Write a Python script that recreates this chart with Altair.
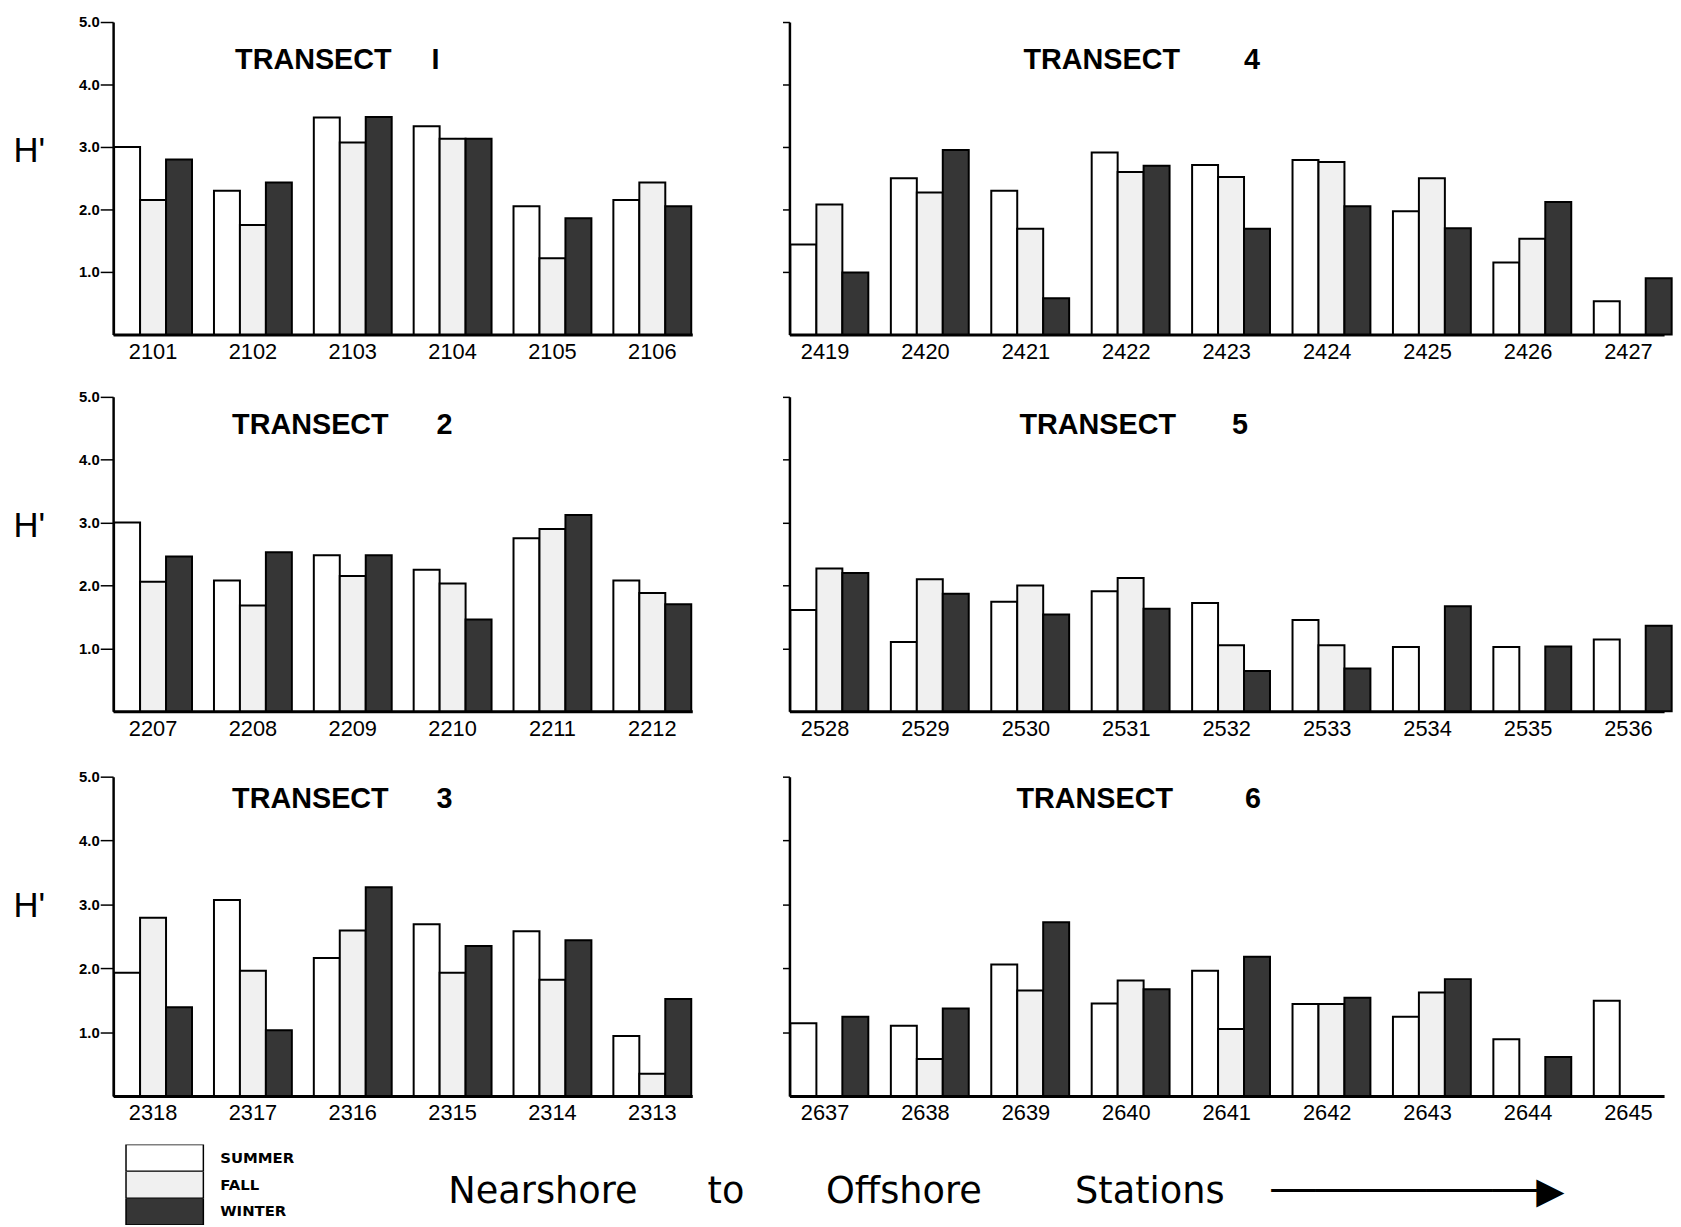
import altair as alt
import pandas as pd

seasons = ["SUMMER", "FALL", "WINTER"]
season_colors = ["#ffffff", "#f0f0f0", "#363636"]

t1_stations = ["2101", "2102", "2103", "2104", "2105", "2106"]
t1_summer = [3.0, 2.3, 3.47, 3.33, 2.05, 2.15]
t1_fall = [2.15, 1.75, 3.07, 3.13, 1.22, 2.43]
t1_winter = [2.8, 2.43, 3.48, 3.13, 1.86, 2.05]

t2_stations = ["2207", "2208", "2209", "2210", "2211", "2212"]
t2_summer = [3.0, 2.08, 2.48, 2.25, 2.75, 2.08]
t2_fall = [2.06, 1.68, 2.15, 2.03, 2.9, 1.88]
t2_winter = [2.46, 2.53, 2.48, 1.46, 3.12, 1.70]

t3_stations = ["2318", "2317", "2316", "2315", "2314", "2313"]
t3_summer = [1.93, 3.07, 2.16, 2.69, 2.58, 0.94]
t3_fall = [2.79, 1.96, 2.59, 1.93, 1.82, 0.35]
t3_winter = [1.39, 1.03, 3.27, 2.35, 2.44, 1.52]

t4_stations = ["2419", "2420", "2421", "2422", "2423", "2424", "2425", "2426", "2427"]
t4_summer = [1.44, 2.5, 2.3, 2.91, 2.71, 2.79, 1.97, 1.15, 0.53]
t4_fall = [2.08, 2.27, 1.69, 2.6, 2.52, 2.76, 2.5, 1.53, None]
t4_winter = [0.99, 2.95, 0.58, 2.7, 1.69, 2.05, 1.7, 2.12, 0.9]

t5_stations = ["2528", "2529", "2530", "2531", "2532", "2533", "2534", "2535", "2536"]
t5_summer = [1.61, 1.1, 1.74, 1.91, 1.72, 1.45, 1.02, 1.02, 1.14]
t5_fall = [2.27, 2.1, 2.0, 2.12, 1.05, 1.05, None, None, None]
t5_winter = [2.2, 1.87, 1.54, 1.63, 0.64, 0.68, 1.67, 1.03, 1.36]

t6_stations = ["2637", "2638", "2639", "2640", "2641", "2642", "2643", "2644", "2645"]
t6_summer = [1.14, 1.1, 2.06, 1.45, 1.96, 1.44, 1.24, 0.89, 1.49]
t6_fall = [None, 0.58, 1.65, 1.81, 1.05, 1.44, 1.62, None, None]
t6_winter = [1.24, 1.37, 2.72, 1.67, 2.18, 1.54, 1.83, 0.61, None]

y_ticks = [1, 2, 3, 4, 5]
FONT = "Liberation Sans"
NB = "\u00a0"


def panel(num, gap, stations, summer, fall, winter, left, width, height, pad_inner,
          title_dx, title_off):
    rows = []
    for i, st in enumerate(stations):
        for season, vals in zip(seasons, [summer, fall, winter]):
            v = vals[i]
            if v is not None:
                rows.append({"station": st, "season": season, "H": v})
    df = pd.DataFrame(rows)
    if left:
        yaxis = alt.Axis(values=y_ticks, format=".1f", tickSize=13, tickWidth=1.5,
                         tickColor="black", domainColor="black", domainWidth=2.5,
                         labelFontSize=15, labelFontWeight="bold", labelFont=FONT,
                         labelColor="black", labelPadding=1, grid=False,
                         title="H'", titleAngle=0, titleX=-85, titleY=130,
                         titleFontSize=35, titleFontWeight="normal", titleFont=FONT,
                         titleAlign="center", titleBaseline="middle", titleColor="black")
    else:
        yaxis = alt.Axis(values=y_ticks, labels=False, tickSize=7, tickWidth=1.5,
                         tickColor="black", domainColor="black", domainWidth=2.5,
                         grid=False, title=None)
    chart = alt.Chart(df).mark_bar(stroke="black", strokeWidth=2).encode(
        x=alt.X("station:N", sort=stations,
                scale=alt.Scale(paddingInner=pad_inner, paddingOuter=0.01),
                axis=alt.Axis(title=None, labelAngle=0, ticks=False, domainWidth=3,
                              domainColor="black", labelFontSize=22, labelFont=FONT,
                              labelColor="black", labelPadding=7)),
        xOffset=alt.XOffset("season:N", sort=seasons,
                            scale=alt.Scale(domain=seasons, paddingInner=0, paddingOuter=0)),
        y=alt.Y("H:Q", scale=alt.Scale(domain=[0, 5], nice=False), axis=yaxis),
        color=alt.Color("season:N", scale=alt.Scale(domain=seasons, range=season_colors),
                        legend=alt.Legend(title=None)),
    ).properties(
        width=width, height=height,
        title=alt.TitleParams(text="TRANSECT" + NB * gap + num, anchor="start", frame="group",
                              dx=title_dx, offset=title_off, baseline="middle",
                              fontSize=29, font=FONT, fontWeight="bold", color="black"),
    )
    return chart


LW, RW = 584, 882
p1 = panel("I", 5, t1_stations, t1_summer, t1_fall, t1_winter, True, LW, 315, 0.22, 123, -74)
p4 = panel("4", 8, t4_stations, t4_summer, t4_fall, t4_winter, False, RW, 315, 0.31, 236, -68)
p2 = panel("2", 6, t2_stations, t2_summer, t2_fall, t2_winter, True, LW, 317, 0.22, 120, -64)
p5 = panel("5", 7, t5_stations, t5_summer, t5_fall, t5_winter, False, RW, 317, 0.31, 232, -58)
p3 = panel("3", 6, t3_stations, t3_summer, t3_fall, t3_winter, True, LW, 322, 0.22, 120, -59)
p6 = panel("6", 9, t6_stations, t6_summer, t6_fall, t6_winter, False, RW, 322, 0.31, 229, -52)

row1 = alt.hconcat(p1, p4, spacing=90)
row2 = alt.hconcat(p2, p5, spacing=90)
row3 = alt.hconcat(p3, p6, spacing=90)

bottom_text = ("Nearshore" + NB * 6 + "to" + NB * 7 + "Offshore" + NB * 8 + "Stations"
               + NB * 4 + "\u2500" * 12 + "\u25b6")

chart = alt.vconcat(row1, alt.vconcat(row2, row3, spacing=31), spacing=28).properties(
    padding={"left": 5, "top": 2, "right": 0, "bottom": 0},
    title=alt.TitleParams(text=bottom_text, orient="bottom", anchor="start", frame="group",
                          dx=338, offset=-22, baseline="alphabetic", fontSize=37,
                          font="DejaVu Sans", fontWeight="normal", color="black"),
).configure_view(stroke=None).configure_legend(
    orient="none", legendX=12, legendY=1132, clipHeight=27, rowPadding=0,
    symbolType="M-1,-0.346L1,-0.346L1,0.346L-1,0.346Z", symbolSize=6084,
    symbolStrokeColor="black", symbolStrokeWidth=1.5, symbolOpacity=1,
    labelFontSize=15, labelFont="DejaVu Sans", labelFontWeight="bold", labelColor="black",
    labelOffset=16,
)

chart.save("out.html", embed_options={"renderer": "svg", "actions": False})
